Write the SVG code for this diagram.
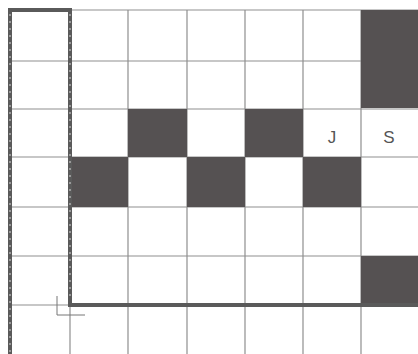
<svg xmlns="http://www.w3.org/2000/svg" width="418" height="354" viewBox="0 0 418 354">
<style>
.grid{stroke:#8f8f8f;stroke-width:1.2;fill:none}
.dark{fill:#555152}
.bold{stroke:#5a5a5a;stroke-width:4;fill:none;stroke-linejoin:miter}
.dots{stroke:#d8d8d8;stroke-width:1;stroke-dasharray:2 5;fill:none}
.lbl{font-family:"Liberation Sans",Arial,sans-serif;font-size:17px;fill:#555;text-anchor:middle}
</style>
<rect width="418" height="354" fill="#fff"/>
<g id="grid">
<path class="grid" d="M10 10H418M10 61H418M10 109H418M10 157H418M10 207H418M10 256H418M10 305H418M70 10V354M128 10V354M187 10V354M245 10V354M303 10V354M361 10V354"/>
</g>
<g id="cells">
<rect class="dark" x="361" y="10" width="57" height="98"/>
<rect class="dark" x="128" y="109" width="59" height="48"/>
<rect class="dark" x="245" y="109" width="58" height="48"/>
<rect class="dark" x="70" y="157" width="58" height="50"/>
<rect class="dark" x="187" y="157" width="58" height="50"/>
<rect class="dark" x="303" y="157" width="58" height="50"/>
<rect class="dark" x="361" y="256" width="57" height="48"/>
</g>
<g id="outline">
<path class="bold" d="M10 354V10H70V305H418"/>
<path class="dots" d="M10 14V354M70 14V300"/>
<path stroke="#777" stroke-width="1" fill="none" d="M57 296V315H85"/>
</g>
<g id="labels">
<text class="lbl" x="332" y="143">J</text>
<text class="lbl" x="389" y="143">S</text>
</g>
</svg>
